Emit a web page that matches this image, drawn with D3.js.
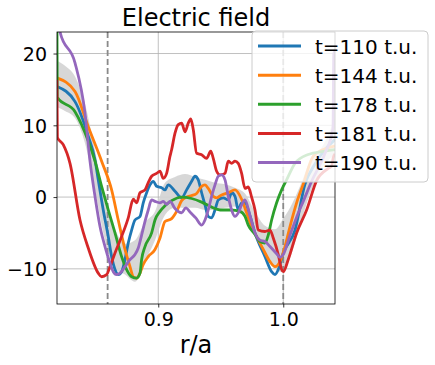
<!DOCTYPE html>
<html>
<head>
<meta charset="utf-8">
<script src="https://cdn.jsdelivr.net/npm/d3@7"></script>
<style>
  html, body { margin: 0; padding: 0; background: #fff; }
  svg { display: block; font-family: "DejaVu Sans", sans-serif; }
</style>
</head>
<body>
<svg id="chart" width="435" height="365"></svg>
<script>
// ---- data ----
const title = "Electric field";
const xLabel = "r/a";
const xTicks = [0.9, 1.0];
const yTicks = [-10, 0, 10, 20];
const xDomain = [0.819, 1.0414];
const yDomain = [-14.9, 23.0];
const dashedAt = [0.8595, 1.0];
const labels = ["t=110 t.u.", "t=144 t.u.", "t=178 t.u.", "t=181 t.u.", "t=190 t.u."];
const colors = ["#1f77b4", "#ff7f0e", "#2ca02c", "#d62728", "#9467bd"];

const rBlue = [0.819, 0.8334, 0.844, 0.8494, 0.852, 0.856, 0.86, 0.8627, 0.8654, 0.868, 0.8707, 0.8734, 0.876, 0.8787, 0.8814, 0.8854, 0.888, 0.8907, 0.8934, 0.896, 0.8987, 0.9027, 0.9054, 0.908, 0.9134, 0.9187, 0.9227, 0.9267, 0.9294, 0.932, 0.9347, 0.9374, 0.94, 0.9427, 0.9454, 0.948, 0.952, 0.956, 0.9587, 0.9614, 0.964, 0.9667, 0.9694, 0.9734, 0.9774, 0.9854, 0.9907, 0.9934, 0.996, 1.0, 1.0094, 1.0174, 1.0254, 1.0334, 1.0414];
const eBlue = [15.4, 13.3, 8.5, 5.2, 2.4, -1.8, -5.5, -8.3, -10.1, -10.8, -10.4, -8.7, -6.4, -4.6, -3.2, -2.7, -0.8, 0.6, 1.7, 2.2, 1.5, 1.3, 1.0, 1.7, 0.8, -0.1, 1.0, 2.2, 2.9, 2.4, 0.6, -1.1, -2.7, -2.9, -1.8, -0.4, -0.1, -0.4, 0.6, 0.1, -1.8, -0.8, -0.8, -2.6, -5.0, -8.3, -10.4, -10.8, -10.1, -7.8, -4.6, 1.8, 4.6, 6.6, 8.0];

const rOrange = [0.819, 0.8334, 0.844, 0.8547, 0.8627, 0.868, 0.8734, 0.8774, 0.88, 0.8827, 0.8854, 0.888, 0.892, 0.8974, 0.9014, 0.9054, 0.9107, 0.9147, 0.9187, 0.9227, 0.9267, 0.9307, 0.9347, 0.9374, 0.94, 0.944, 0.9467, 0.9507, 0.956, 0.9614, 0.9667, 0.9707, 0.9747, 0.9787, 0.984, 0.9894, 0.9934, 0.9974, 1.0014, 1.0054, 1.0107, 1.016, 1.024, 1.0347, 1.0414];
const eOrange = [16.6, 14.7, 9.8, 5.0, 1.0, -3.2, -7.3, -9.7, -11.1, -11.3, -10.6, -9.4, -8.3, -7.3, -5.7, -3.4, -3.0, -2.0, -0.5, 0.0, 0.2, 0.5, 1.5, 1.7, 1.2, 0.1, -0.1, 0.3, 0.6, 1.0, -0.3, -2.2, -4.2, -5.5, -7.3, -9.0, -9.7, -9.0, -6.9, -4.1, -0.8, 1.8, 5.7, 6.8, 7.1];

const rGreen = [0.8186, 0.8192, 0.8334, 0.844, 0.8494, 0.8547, 0.86, 0.8654, 0.8707, 0.8747, 0.8787, 0.8827, 0.8854, 0.8867, 0.8894, 0.8947, 0.8974, 0.9014, 0.9054, 0.9107, 0.9187, 0.9267, 0.9347, 0.9427, 0.9494, 0.958, 0.9654, 0.9694, 0.972, 0.9774, 0.9814, 0.9854, 0.988, 0.9907, 0.9947, 0.9987, 1.0027, 1.0094, 1.0194, 1.0334, 1.0414];
const eGreen = [40.0, 13.9, 11.9, 7.8, 5.0, 1.5, -1.8, -5.0, -8.3, -10.1, -11.1, -11.3, -10.6, -8.7, -6.9, -5.0, -3.2, -2.0, -1.2, -0.5, 0.0, -0.2, -0.7, -1.4, -1.8, -1.8, -2.0, -2.7, -3.9, -5.2, -6.2, -6.4, -5.3, -3.2, -0.8, 1.0, 2.4, 4.7, 5.9, 6.4, 6.6];

const rRed = [0.8189, 0.8193, 0.824, 0.8294, 0.8374, 0.844, 0.852, 0.8547, 0.8587, 0.8614, 0.8654, 0.8707, 0.876, 0.88, 0.8827, 0.8854, 0.8894, 0.892, 0.8947, 0.8987, 0.9014, 0.904, 0.9067, 0.9094, 0.9107, 0.9134, 0.916, 0.9187, 0.9214, 0.924, 0.926, 0.928, 0.9307, 0.9347, 0.9387, 0.942, 0.944, 0.9467, 0.9494, 0.9534, 0.956, 0.9587, 0.9614, 0.964, 0.9667, 0.9694, 0.972, 0.9747, 0.9774, 0.98, 0.9854, 0.9894, 0.992, 0.996, 0.9987, 1.0, 1.004, 1.0107, 1.0187, 1.0267, 1.0361, 1.0387, 1.04, 1.0414];
const eRed = [16.3, 8.3, 7.3, 4.7, -3.2, -7.1, -10.6, -11.1, -10.8, -9.7, -7.8, -5.5, -2.9, -0.3, -0.8, 0.6, 1.0, 2.0, 2.9, 3.3, 3.6, 2.6, 3.3, 5.7, 6.6, 8.9, 10.1, 10.3, 9.1, 10.3, 10.9, 9.4, 6.1, 5.9, 5.4, 6.4, 5.4, 3.6, 3.1, 3.3, 5.0, 4.7, 5.0, 4.7, 3.3, 1.2, 1.4, 0.0, -1.8, -4.6, -4.8, -4.6, -5.7, -8.0, -10.1, -10.4, -8.7, -5.0, -1.8, 2.3, 4.0, 4.3, 5.5, 6.0];

const rPurple = [0.8186, 0.8214, 0.8334, 0.8414, 0.8454, 0.8494, 0.8534, 0.8574, 0.8614, 0.864, 0.8667, 0.8694, 0.8734, 0.8774, 0.8814, 0.884, 0.8867, 0.8894, 0.892, 0.8947, 0.8974, 0.9014, 0.904, 0.9067, 0.9094, 0.9134, 0.9187, 0.922, 0.926, 0.93, 0.9347, 0.9374, 0.94, 0.9427, 0.9454, 0.948, 0.9507, 0.9534, 0.956, 0.9587, 0.9614, 0.964, 0.9667, 0.9694, 0.9734, 0.9774, 0.9814, 0.9854, 0.9894, 0.9947, 0.9974, 1.0, 1.0054, 1.0107, 1.016, 1.0227, 1.0334, 1.0398, 1.0404, 1.0414];
const ePurple = [27.0, 23.0, 18.7, 11.7, 5.0, 0.1, -4.1, -6.9, -9.2, -10.4, -10.8, -10.6, -9.7, -8.7, -8.0, -7.1, -5.3, -3.4, -1.8, -0.4, -0.6, -0.8, -0.6, -1.0, -0.6, -1.6, -2.2, -1.5, -2.2, -2.9, -3.9, -3.2, -1.8, 0.1, 1.7, 2.9, 3.1, 2.4, 0.1, -1.8, -2.7, -2.2, -1.1, -0.4, -2.6, -5.0, -6.0, -6.2, -6.9, -7.9, -8.4, -8.0, -5.3, -2.8, -0.6, 2.2, 6.1, 9.6, 19.9, 20.5];

const rBand = [0.819, 0.8254, 0.8334, 0.8414, 0.8494, 0.8574, 0.8654, 0.8734, 0.8814, 0.8894, 0.8974, 0.9054, 0.9134, 0.9214, 0.9294, 0.9374, 0.9454, 0.9534, 0.9614, 0.9694, 0.9774, 0.9854, 0.9934, 1.0, 1.0054, 1.0134, 1.0214, 1.0294, 1.0414];
const bandLow = [12.5, 12.0, 11.0, 7.5, 1.0, -6.0, -10.0, -10.8, -11.8, -9.0, -6.0, -2.5, -1.5, -1.5, -1.5, -1.8, -1.8, -1.5, -1.3, -2.5, -5.0, -8.0, -10.0, -10.5, -8.5, -4.0, 0.5, 3.5, 6.0];
const bandHigh = [19.0, 18.3, 16.8, 13.0, 6.5, -0.5, -4.5, -6.5, -6.0, -3.5, -2.0, 2.0, 2.8, 3.2, 2.8, 2.4, 2.0, 1.8, 1.3, 0.5, -2.0, -4.0, -4.5, -3.0, -1.5, 1.5, 5.0, 6.5, 11.0];

const seriesR = [rBlue, rOrange, rGreen, rRed, rPurple];
const seriesE = [eBlue, eOrange, eGreen, eRed, ePurple];

// ---- layout ----
const W = 435, H = 365;
const m = { left: 57, right: 100, top: 32, bottom: 61 };
const svg = d3.select("#chart");
const x = d3.scaleLinear().domain(xDomain).range([m.left, W - m.right]);
const y = d3.scaleLinear().domain(yDomain).range([H - m.bottom, m.top]);

svg.append("defs").append("clipPath").attr("id", "clip")
  .append("rect").attr("x", m.left).attr("y", m.top)
  .attr("width", W - m.right - m.left).attr("height", H - m.bottom - m.top);

// grid
const grid = svg.append("g");
grid.selectAll(".gx").data(xTicks).join("line")
  .attr("x1", d => x(d)).attr("x2", d => x(d))
  .attr("y1", m.top).attr("y2", H - m.bottom)
  .attr("stroke", "#b0b0b0").attr("stroke-width", 0.8);
grid.selectAll(".gy").data(yTicks).join("line")
  .attr("x1", m.left).attr("x2", W - m.right)
  .attr("y1", d => y(d)).attr("y2", d => y(d))
  .attr("stroke", "#b0b0b0").attr("stroke-width", 0.8);

const plot = svg.append("g").attr("clip-path", "url(#clip)");

// band
const bandData = rBand.map((r, i) => ({ r, lo: bandLow[i], hi: bandHigh[i] }));
plot.append("path").datum(bandData)
  .attr("d", d3.area().x(d => x(d.r)).y0(d => y(d.lo)).y1(d => y(d.hi)).curve(d3.curveMonotoneX))
  .attr("fill", "#d3d3d3").attr("opacity", 0.9);

// dashed lines
plot.selectAll(".dash").data(dashedAt).join("line")
  .attr("x1", d => x(d)).attr("x2", d => x(d))
  .attr("y1", m.top).attr("y2", H - m.bottom)
  .attr("stroke", "#8a8a8a").attr("stroke-width", 1.8)
  .attr("stroke-dasharray", "6,3");

// curves
const line = d3.line().x(d => x(d[0])).y(d => y(d[1])).curve(d3.curveMonotoneX);
seriesR.forEach((rs, k) => {
  const pts = rs.map((r, i) => [r, seriesE[k][i]]);
  plot.append("path").datum(pts)
    .attr("d", line)
    .attr("fill", "none")
    .attr("stroke", colors[k])
    .attr("stroke-width", 2.8)
    .attr("stroke-linejoin", "round")
    .attr("stroke-linecap", "butt");
});

// axes
const xAxis = d3.axisBottom(x).tickValues(xTicks).tickSize(3.5).tickPadding(3.5).tickFormat(d3.format(".1f"));
const yAxis = d3.axisLeft(y).tickValues(yTicks).tickSize(3.5).tickPadding(3.5).tickFormat(d => d < 0 ? "\u2212" + Math.abs(d) : d);
const gx = svg.append("g").attr("transform", `translate(0,${H - m.bottom})`).call(xAxis);
const gy = svg.append("g").attr("transform", `translate(${m.left},0)`).call(yAxis);
[gx, gy].forEach(g => {
  g.select(".domain").remove();
  g.selectAll("line").attr("stroke", "#000").attr("stroke-width", 0.8);
  g.selectAll("text").attr("fill", "#000").attr("font-size", 19).attr("font-family", "DejaVu Sans");
});
gx.selectAll("text").attr("dy", null).attr("y", 21.5);
gy.selectAll("text").attr("dy", "0.36em").attr("x", -10);

// frame
svg.append("rect").attr("x", m.left).attr("y", m.top)
  .attr("width", W - m.right - m.left).attr("height", H - m.bottom - m.top)
  .attr("fill", "none").attr("stroke", "#000").attr("stroke-width", 0.8);

// title & label
svg.append("text").attr("x", (m.left + W - m.right) / 2).attr("y", 26)
  .attr("text-anchor", "middle").attr("font-size", 24).text(title);
svg.append("text").attr("x", (m.left + W - m.right) / 2).attr("y", 352.5)
  .attr("text-anchor", "middle").attr("font-size", 24).text(xLabel);

// legend
const lg = svg.append("g");
lg.append("rect").attr("x", 252).attr("y", 31).attr("width", 176).attr("height", 151)
  .attr("rx", 4).attr("fill", "#fff").attr("fill-opacity", 0.8)
  .attr("stroke", "#cccccc").attr("stroke-width", 1);
const rowY = d3.scalePoint().domain(labels).range([46, 162.5]);
labels.forEach((lab, k) => {
  lg.append("line").attr("x1", 258).attr("x2", 301)
    .attr("y1", rowY(lab)).attr("y2", rowY(lab))
    .attr("stroke", colors[k]).attr("stroke-width", 3);
  lg.append("text").attr("x", 315).attr("y", rowY(lab) + 7.5)
    .attr("font-size", 20).attr("fill", "#000").text(lab);
});
</script>
</body>
</html>
